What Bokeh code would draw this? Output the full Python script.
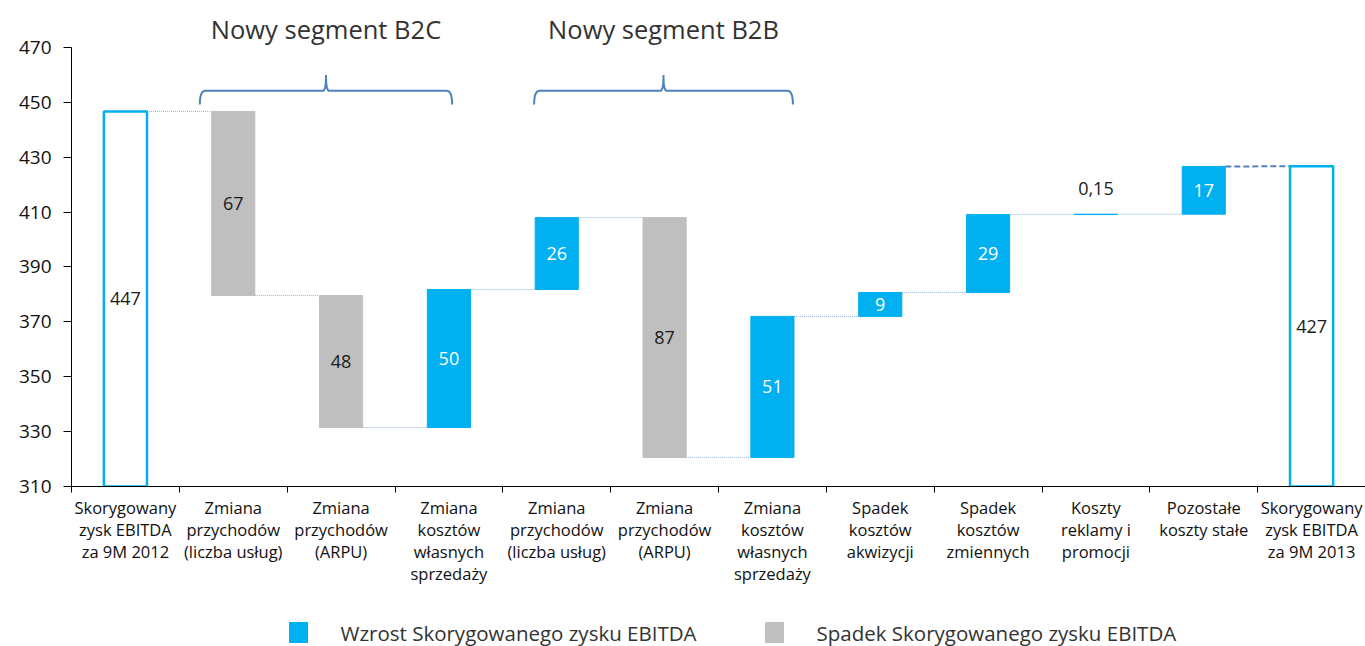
import numpy as np
from bokeh.plotting import figure
from bokeh.layouts import column
from bokeh.models import (ColumnDataSource, FixedTicker, Range1d, CustomJSTickFormatter)
from bokeh.core.properties import value
from bokeh.embed import file_html
from bokeh.resources import INLINE

# ---------------- data ----------------
categories = [
    "Skorygowany\nzysk EBITDA\nza 9M 2012",
    "Zmiana\nprzychodów\n(liczba usług)",
    "Zmiana\nprzychodów\n(ARPU)",
    "Zmiana\nkosztów\nwłasnych\nsprzedaży",
    "Zmiana\nprzychodów\n(liczba usług)",
    "Zmiana\nprzychodów\n(ARPU)",
    "Zmiana\nkosztów\nwłasnych\nsprzedaży",
    "Spadek\nkosztów\nakwizycji",
    "Spadek\nkosztów\nzmiennych",
    "Koszty\nreklamy i\npromocji",
    "Pozostałe\nkoszty stałe",
    "Skorygowany\nzysk EBITDA\nza 9M 2013",
]
start_value = 446.7
deltas = [-67.1, -48.1, 50.3, 26.2, -87.4, 51.4, 8.7, 28.4, 0.15, 17.4]
end_value = 426.7
value_labels = ["447", "67", "48", "50", "26", "87", "51", "9", "29", "0,15", "17", "427"]
group_titles = ["Nowy segment B2C", "Nowy segment B2B"]
group_x0 = [1.19, 4.29]
group_x1 = [3.53, 6.69]
y_ticks = [310, 330, 350, 370, 390, 410, 430, 450, 470]
legend_labels = ["Wzrost Skorygowanego zysku EBITDA", "Spadek Skorygowanego zysku EBITDA"]

CYAN = "#00B0F0"
GRAY = "#BFBFBF"
BLUE = "#4F81BD"
FONT = "Open Sans"
BAR_W = 0.4
Y0 = 310

# ---------------- derived ----------------
n = len(categories)
centers = [i + 0.5 for i in range(n)]
levels = [start_value]
for d in deltas:
    levels.append(levels[-1] + d)

inc = dict(x=[], bottom=[], top=[])
dec = dict(x=[], bottom=[], top=[])
lab = dict(x=[], y=[], text=[], color=[])
lab["x"].append(centers[0]); lab["y"].append((Y0 + start_value) / 2)
lab["text"].append(value_labels[0]); lab["color"].append("#1a1a1a")
for i, d in enumerate(deltas):
    prev, cur = levels[i], levels[i + 1]
    lo, hi = min(prev, cur), max(prev, cur)
    tgt = inc if d > 0 else dec
    tgt["x"].append(centers[i + 1]); tgt["bottom"].append(lo); tgt["top"].append(hi)
    lab["x"].append(centers[i + 1])
    if abs(d) < 3:
        lab["y"].append(hi + 9.4); lab["color"].append("#1a1a1a")
    else:
        lab["y"].append((lo + hi) / 2)
        lab["color"].append("white" if d > 0 else "#1a1a1a")
    lab["text"].append(value_labels[i + 1])
lab["x"].append(centers[-1]); lab["y"].append((Y0 + end_value) / 2)
lab["text"].append(value_labels[-1]); lab["color"].append("#1a1a1a")

# ---------------- main figure ----------------
W, H_MAIN, H_LEG = 1365, 606, 40
LEFT = 71
p = figure(width=W, height=H_MAIN, output_backend="svg", toolbar_location=None,
           x_range=Range1d(0, n), y_range=Range1d(Y0, 485.67),
           min_border_left=LEFT, min_border_right=0, min_border_top=4, min_border_bottom=120,
           title=None)
p.outline_line_color = None
p.xgrid.grid_line_color = None
p.ygrid.grid_line_color = None
p.background_fill_color = "white"

p.yaxis.ticker = FixedTicker(ticks=y_ticks, minor_ticks=[])
p.yaxis.bounds = (Y0, 470)
p.yaxis.major_tick_in = 0
p.yaxis.major_tick_out = 8
p.yaxis.minor_tick_line_color = None
p.yaxis.major_label_text_font = FONT
p.yaxis.major_label_text_font_size = "19px"
p.yaxis.major_label_text_color = "#111111"
p.yaxis.major_label_standoff = 12
p.yaxis.axis_line_color = "black"
p.yaxis.major_tick_line_color = "black"

p.xaxis.ticker = FixedTicker(ticks=centers, minor_ticks=list(range(n + 1)))
p.xaxis.formatter = CustomJSTickFormatter(args=dict(labels=categories),
                                          code="return labels[index] || '';")
p.xaxis.major_tick_line_color = None
p.xaxis.major_tick_in = 0
p.xaxis.major_tick_out = 0
p.xaxis.minor_tick_in = 0
p.xaxis.minor_tick_out = 6
p.xaxis.minor_tick_line_color = "black"
p.xaxis.axis_line_color = "black"
p.xaxis.major_label_text_font = FONT
p.xaxis.major_label_text_font_size = "16.5px"
p.xaxis.major_label_text_color = "#111111"
p.xaxis.major_label_text_line_height = 0.97
p.xaxis.major_label_standoff = 3

# connectors
for i in range(n - 1):
    x0 = centers[i] + BAR_W / 2
    x1 = centers[i + 1] - BAR_W / 2
    if i == n - 2:
        p.line([x0, x1], [levels[-1], end_value], line_color=BLUE, line_width=2, line_dash="6 3")
    else:
        p.line([x0, x1], [levels[i], levels[i]], line_color="#8EB4E3", line_width=1, line_dash="1 1")

# total boxes
p.vbar(x=[centers[0], centers[-1]], bottom=[Y0, Y0], top=[start_value, end_value], width=BAR_W,
       fill_color="white", line_color=CYAN, line_width=2.5)

p.vbar(x="x", bottom="bottom", top="top", width=BAR_W, source=ColumnDataSource(inc),
       fill_color=CYAN, line_color=CYAN, line_width=1)
p.vbar(x="x", bottom="bottom", top="top", width=BAR_W, source=ColumnDataSource(dec),
       fill_color=GRAY, line_color=GRAY, line_width=1)

p.text(x="x", y="y", text="text", text_color="color", source=ColumnDataSource(lab),
       text_align="center", text_baseline="middle",
       text_font=value(FONT), text_font_size="18px")

# braces
def quad(p0, c, p1, k=12):
    t = np.linspace(0, 1, k)
    xs = (1 - t) ** 2 * p0[0] + 2 * (1 - t) * t * c[0] + t ** 2 * p1[0]
    ys = (1 - t) ** 2 * p0[1] + 2 * (1 - t) * t * c[1] + t ** 2 * p1[1]
    return list(xs), list(ys)

yb, ym, yp = 449.2, 454.2, 460.0
dx, dx2 = 0.05, 0.03
for t, a, b in zip(group_titles, group_x0, group_x1):
    xc = (a + b) / 2
    xs, ys = [], []
    for seg in [quad((a, yb), (a, ym), (a + dx, ym)),
                quad((xc - dx2, ym), (xc, ym), (xc, yp)),
                quad((xc, yp), (xc, ym), (xc + dx2, ym)),
                quad((b - dx, ym), (b, ym), (b, yb))]:
        xs += seg[0]; ys += seg[1]
    p.line(xs, ys, line_color=BLUE, line_width=2)
    p.text(x=[xc], y=[476.9], text=[t], text_align="center", text_baseline="middle",
           text_font=value(FONT), text_font_size="25.5px", text_color="#333333")

# ---------------- legend strip (page-pixel coordinates; frame aligned with main plot) ----------------
lg = figure(width=W, height=H_LEG, output_backend="svg", toolbar_location=None,
            x_range=Range1d(LEFT, W), y_range=Range1d(0, H_LEG),
            min_border_left=LEFT, min_border_right=0, min_border_top=0, min_border_bottom=0,
            title=None)
lg.axis.visible = False
lg.xgrid.grid_line_color = None
lg.ygrid.grid_line_color = None
lg.outline_line_color = None
sw_left = [289, 765]
sw_colors = [CYAN, GRAY]
lg.quad(left=sw_left, right=[v + 18 for v in sw_left], bottom=[4, 4], top=[24, 24],
        fill_color=sw_colors, line_color=sw_colors)
lg.text(x=[v + 51 for v in sw_left], y=[14, 14], text=legend_labels, text_align="left",
        text_baseline="middle", text_font=value(FONT), text_font_size="20.5px",
        text_color="#333333")

layout = column(p, lg, spacing=0)
open("out.html", "w").write(file_html(layout, INLINE))
